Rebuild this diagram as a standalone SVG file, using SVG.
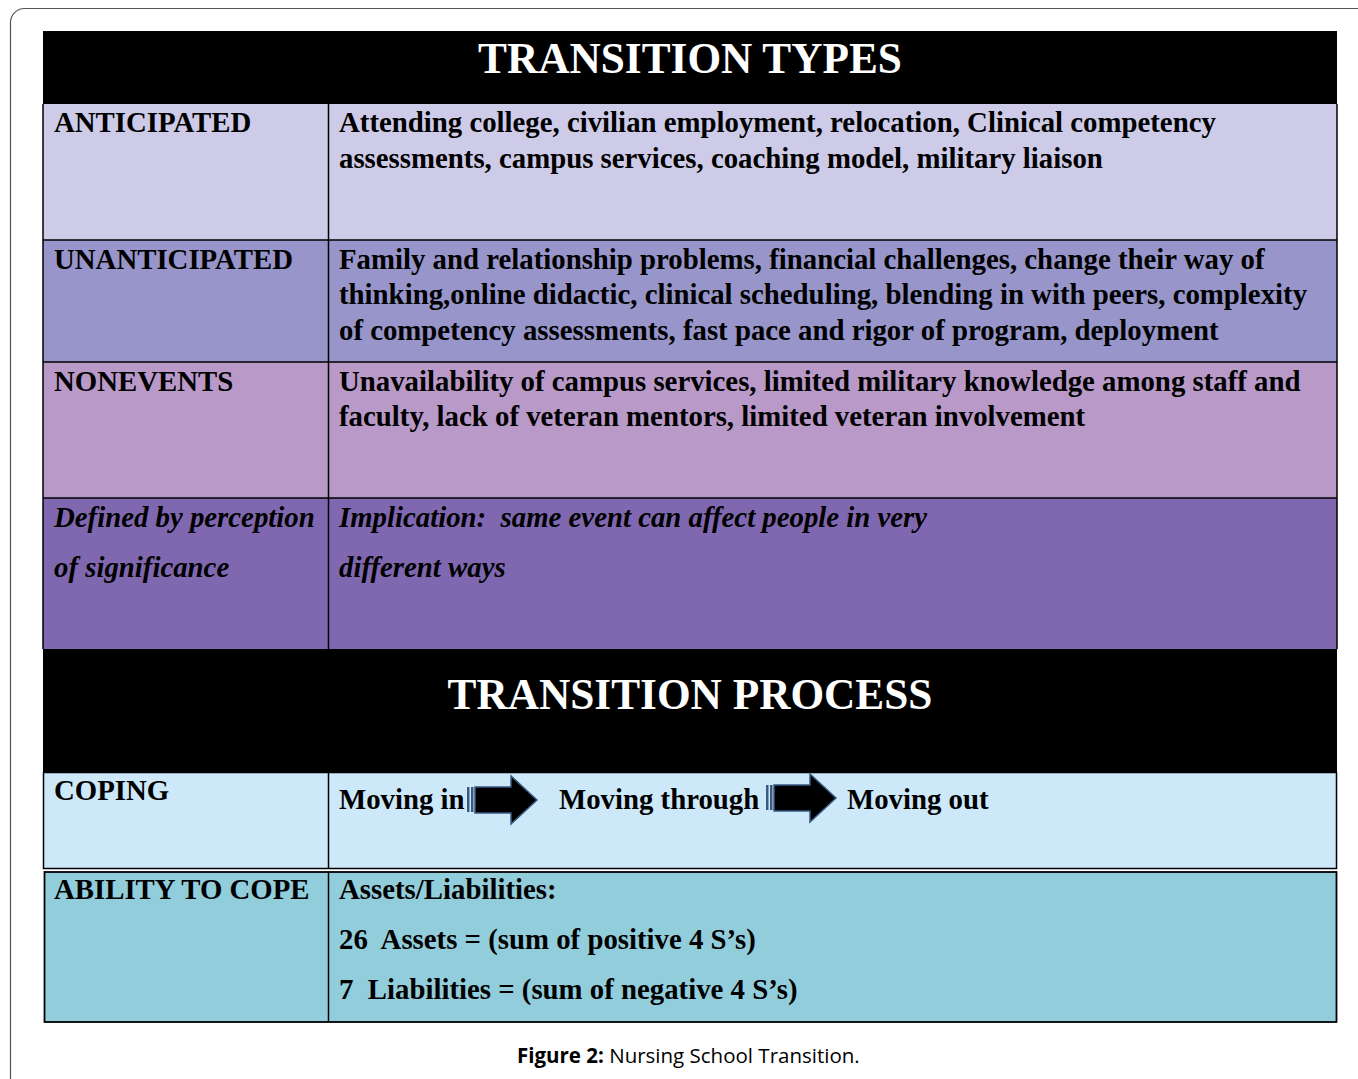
<svg xmlns="http://www.w3.org/2000/svg" width="1358" height="1079" viewBox="0 0 1358 1079">
<style>
.t{font-family:"Liberation Serif","Times New Roman",serif;font-weight:bold;font-size:28.8px;fill:#000}
.i{font-style:italic}
.h{font-family:"Liberation Serif","Times New Roman",serif;font-weight:bold;font-size:43.3px;fill:#fff;text-anchor:middle}
.cap{font-family:"Open Sans","Liberation Sans",sans-serif;font-size:20.5px;fill:#000}
.ln{stroke:#000;stroke-width:1.5;fill:none}
.arr{fill:#000;stroke:#3a5a80;stroke-width:1.5}
</style>
<defs>
<g id="arrow">
<rect x="0" y="11" width="2.5" height="25" fill="#3a5a80"/>
<rect x="4" y="11" width="2.5" height="25" fill="#3a5a80"/>
<path class="arr" d="M8,11 H44 V0 L70,24 L44,48 V37 H8 Z"/>
</g>
</defs>
<rect x="10.5" y="8.5" width="1400" height="1100" rx="14" fill="#fff" stroke="#555" stroke-width="1.2"/>
<g id="title-types"><rect x="43" y="31" width="1294" height="74" fill="#000"/><text class="h" x="690" y="73">TRANSITION TYPES</text></g>
<g id="row-anticipated"><rect x="43" y="104" width="1294" height="136" fill="#CDCBE7"/>
<text class="t" x="54" y="132">ANTICIPATED</text>
<text class="t" x="339" y="132">Attending college, civilian employment, relocation, Clinical competency</text>
<text class="t" x="339" y="168">assessments, campus services, coaching model, military liaison</text></g>
<g id="row-unanticipated"><rect x="43" y="240" width="1294" height="122" fill="#9795C9"/>
<text class="t" x="54" y="269">UNANTICIPATED</text>
<text class="t" x="339" y="269">Family and relationship problems, financial challenges, change their way of</text>
<text class="t" x="339" y="304">thinking,online didactic, clinical scheduling, blending in with peers, complexity</text>
<text class="t" x="339" y="340">of competency assessments, fast pace and rigor of program, deployment</text></g>
<g id="row-nonevents"><rect x="43" y="362" width="1294" height="136" fill="#B899C8"/>
<text class="t" x="54" y="391">NONEVENTS</text>
<text class="t" x="339" y="391">Unavailability of campus services, limited military knowledge among staff and</text>
<text class="t" x="339" y="426">faculty, lack of veteran mentors, limited veteran involvement</text></g>
<g id="row-defined"><rect x="43" y="498" width="1294" height="151" fill="#7F68B0"/>
<text class="t i" x="54" y="527">Defined by perception</text>
<text class="t i" x="54" y="577">of significance</text>
<text class="t i" x="339" y="527" xml:space="preserve">Implication:  same event can affect people in very</text>
<text class="t i" x="339" y="577">different ways</text></g>
<g id="title-process"><rect x="43" y="649" width="1294" height="124" fill="#000"/><text class="h" x="690" y="709">TRANSITION PROCESS</text></g>
<g id="row-coping"><rect x="43.5" y="772.5" width="1293" height="96" fill="#CDE9F9" stroke="#000" stroke-width="1.5"/>
<text class="t" x="54" y="800">COPING</text>
<text class="t" x="339" y="809">Moving in</text>
<text class="t" x="559" y="809">Moving through</text>
<text class="t" x="847" y="809">Moving out</text></g>
<g id="row-ability"><rect x="44.5" y="872" width="1292" height="150" fill="#92CDDB" stroke="#000" stroke-width="1.8"/>
<text class="t" x="54" y="899">ABILITY TO COPE</text>
<text class="t" x="339" y="899">Assets/Liabilities:</text>
<text class="t" x="339" y="949" xml:space="preserve">26  Assets = (sum of positive 4 S’s)</text>
<text class="t" x="339" y="999" xml:space="preserve">7  Liabilities = (sum of negative 4 S’s)</text></g>
<g id="connectors">
<line class="ln" x1="43" y1="240" x2="1337" y2="240"/>
<line class="ln" x1="43" y1="362" x2="1337" y2="362"/>
<line class="ln" x1="43" y1="498" x2="1337" y2="498"/>
<line class="ln" x1="43" y1="104" x2="43" y2="649"/>
<line class="ln" x1="1337" y1="104" x2="1337" y2="649"/>
<line class="ln" x1="328.5" y1="104" x2="328.5" y2="649"/>
<line class="ln" x1="328.5" y1="772" x2="328.5" y2="869"/>
<line class="ln" x1="328.5" y1="872" x2="328.5" y2="1022"/>
<use href="#arrow" x="467" y="776"/>
<use href="#arrow" x="766" y="774"/>
</g>
<text class="cap" x="517" y="1063"><tspan font-weight="bold">Figure 2:</tspan> Nursing School Transition.</text>
</svg>
